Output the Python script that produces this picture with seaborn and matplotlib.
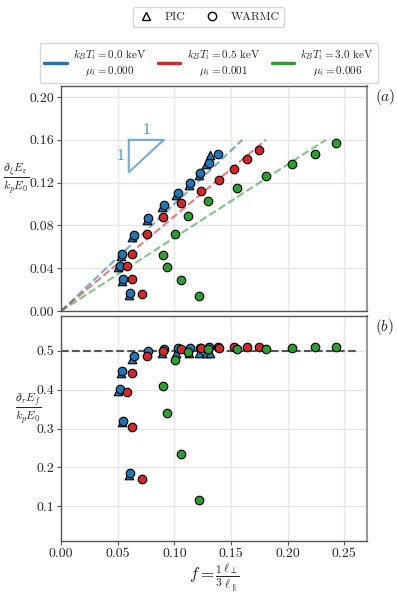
import numpy as np
import pandas as pd
import matplotlib
matplotlib.use('Agg')
import matplotlib.pyplot as plt
import seaborn as sns
from matplotlib.lines import Line2D

# ---- data ----
# PIC (blue, kBT=0)
pic_f = [0.0505, 0.0528, 0.0535, 0.0597, 0.0625, 0.0755, 0.0895, 0.1015, 0.1125, 0.1215, 0.1278, 0.1314]
pic_ez = [0.0410, 0.0515, 0.0285, 0.0150, 0.0695, 0.0850, 0.0970, 0.1085, 0.1180, 0.1270, 0.1374, 0.1459]
pic_ef = [0.397, 0.444, 0.317, 0.181, 0.479, 0.498, 0.494, 0.495, 0.494, 0.494, 0.494, 0.494]

# WARMC, kBT = 0.0 keV
blue_f = [0.0519, 0.0542, 0.0548, 0.0610, 0.0640, 0.0769, 0.0907, 0.1028, 0.1137, 0.1228, 0.1308, 0.1387]
blue_ez = [0.0424, 0.0530, 0.0299, 0.0165, 0.0710, 0.0866, 0.0988, 0.1100, 0.1200, 0.1290, 0.1380, 0.1465]
blue_ef = [0.401, 0.448, 0.320, 0.185, 0.487, 0.501, 0.505, 0.507, 0.507, 0.507, 0.509, 0.510]

# WARMC, kBT = 0.5 keV
red_f = [0.0583, 0.0622, 0.0622, 0.0719, 0.0760, 0.0896, 0.1060, 0.1237, 0.1390, 0.1523, 0.1643, 0.1749]
red_ez = [0.0424, 0.0530, 0.0299, 0.0162, 0.0717, 0.0876, 0.1007, 0.1125, 0.1228, 0.1328, 0.1418, 0.1502]
red_ef = [0.393, 0.443, 0.305, 0.169, 0.486, 0.500, 0.505, 0.507, 0.508, 0.509, 0.510, 0.511]

# WARMC, kBT = 3.0 keV
green_f = [0.0896, 0.0937, 0.1002, 0.1060, 0.1122, 0.1219, 0.1299, 0.1552, 0.1811, 0.2038, 0.2241, 0.2427]
green_ez = [0.0524, 0.0408, 0.0717, 0.0287, 0.0885, 0.0143, 0.1031, 0.1153, 0.1262, 0.1371, 0.1471, 0.1570]
green_ef = [0.410, 0.339, 0.477, 0.235, 0.497, 0.115, 0.504, 0.506, 0.506, 0.508, 0.509, 0.510]

colors = ['#1f77b4', '#d62728', '#2ca02c']
temps = ['0.0', '0.5', '3.0']
mus = ['0.000', '0.001', '0.006']
fit_slopes = [1.0, 0.885, 0.685]
fit_top = 0.16

sns.set_style('whitegrid', {'xtick.bottom': True, 'ytick.left': True,
                            'axes.edgecolor': '#555555', 'grid.color': '#e6e6e6'})
plt.rcParams['font.family'] = 'serif'
plt.rcParams['font.serif'] = ['cmr10', 'DejaVu Serif']
plt.rcParams['mathtext.fontset'] = 'cm'
plt.rcParams['axes.unicode_minus'] = False
plt.rcParams['axes.formatter.use_mathtext'] = True

fig = plt.figure(figsize=(3.97, 5.94), dpi=100)
ax1 = fig.add_axes([0.1537, 0.4764, 0.7707, 0.3788])
ax2 = fig.add_axes([0.1537, 0.0892, 0.7707, 0.3788])

mk = dict(s=38, edgecolor='black', linewidth=0.8, zorder=3, legend=False)

# fit lines in panel (a)
for c, m in zip(colors, fit_slopes):
    xs = np.array([0.0, fit_top / m])
    sns.lineplot(x=xs, y=m * xs, ax=ax1, color=c, linestyle='--', lw=1.5, alpha=0.6, zorder=2)

series = [(blue_f, blue_ez, blue_ef), (red_f, red_ez, red_ef), (green_f, green_ez, green_ef)]
for i, (c, (f, ez, ef)) in enumerate(zip(colors, series)):
    if i == 0:
        sns.scatterplot(x=pic_f, y=pic_ez, ax=ax1, color=c, marker='^', **mk)
        sns.scatterplot(x=pic_f, y=pic_ef, ax=ax2, color=c, marker='^', **mk)
    sns.scatterplot(x=f, y=ez, ax=ax1, color=c, marker='o', **mk)
    sns.scatterplot(x=f, y=ef, ax=ax2, color=c, marker='o', **mk)

# slope triangle
tri_x = [0.0598, 0.0907, 0.0598, 0.0598]
tri_y = [0.160, 0.160, 0.1297, 0.160]
ax1.plot(tri_x, tri_y, color=colors[0], alpha=0.6, lw=1.5, zorder=2)
ax1.text(0.0752, 0.1625, '1', color=colors[0], alpha=0.85, fontsize=11, ha='center', va='bottom')
ax1.text(0.0555, 0.145, '1', color=colors[0], alpha=0.85, fontsize=11, ha='right', va='center')

ax2.plot([0.0, 0.26], [0.5, 0.5], color='#555555', linestyle='--', lw=1.5, zorder=2)

for ax in (ax1, ax2):
    ax.set_xlim(0, 0.27)
    ax.set_xticks([0.0, 0.05, 0.10, 0.15, 0.20, 0.25])
    ax.tick_params(labelsize=10, length=3, color='#555555', pad=2)
    ax.grid(True, lw=1.0)
    for s in ax.spines.values():
        s.set_linewidth(1.0)
    ax.spines['right'].set_color('#999999')
    ax.spines['right'].set_linewidth(1.5)

ax1.set_ylim(0, 0.2103)
ax1.set_yticks([0.0, 0.04, 0.08, 0.12, 0.16, 0.20])
ax1.set_yticklabels(['0.00', '0.04', '0.08', '0.12', '0.16', '0.20'])
ax1.set_xticklabels([])
ax1.tick_params(axis='x', length=0)

ax2.set_ylim(0.01, 0.59)
ax2.set_yticks([0.1, 0.2, 0.3, 0.4, 0.5])
ax2.set_yticklabels(['0.1', '0.2', '0.3', '0.4', '0.5'])
ax2.set_xticklabels(['0.00', '0.05', '0.10', '0.15', '0.20', '0.25'])

ax1.set_ylabel(r'$\frac{\partial_\xi E_z}{k_p E_0}$', rotation=0, fontsize=12, ha='center', va='center')
ax1.yaxis.set_label_coords(-0.147, 0.587)
ax2.set_ylabel(r'$\frac{\partial_r E_f}{k_p E_0}$', rotation=0, fontsize=12, ha='center', va='center')
ax2.yaxis.set_label_coords(-0.107, 0.587)
ax2.set_xlabel(r'$f = \frac{1}{3}\frac{\ell_\perp}{\ell_\parallel}$', fontsize=12, labelpad=0)

ax1.text(1.025, 0.95, r'$(a)$', transform=ax1.transAxes, fontsize=11, ha='left', va='center')
ax2.text(1.025, 0.95, r'$(b)$', transform=ax2.transAxes, fontsize=11, ha='left', va='center')

# legends
h_type = [Line2D([], [], marker='^', color='none', markerfacecolor='white', markeredgecolor='black', markersize=6),
          Line2D([], [], marker='o', color='none', markerfacecolor='white', markeredgecolor='black', markersize=6)]
leg1 = fig.legend(h_type, ['PIC', 'WARMC'], ncol=2, loc='upper center', bbox_to_anchor=(0.525, 0.998),
                  fontsize=8.5, frameon=True, handlelength=1.5, columnspacing=1.5)

h_T = [Line2D([], [], color=c, lw=2.5) for c in colors]
lab_T = [r'$k_BT_i = %s$ keV' % t + '\n' + r'$\mu_i = %s$' % m for t, m in zip(temps, mus)]
leg2 = fig.legend(h_T, lab_T, ncol=3, loc='upper center', bbox_to_anchor=(0.527, 0.937),
                  fontsize=8, frameon=True, handlelength=2.0, columnspacing=1.0, handletextpad=0.6)
for t in leg2.get_texts():
    t.set_multialignment('center')

fig.savefig('out.png', dpi=100)
